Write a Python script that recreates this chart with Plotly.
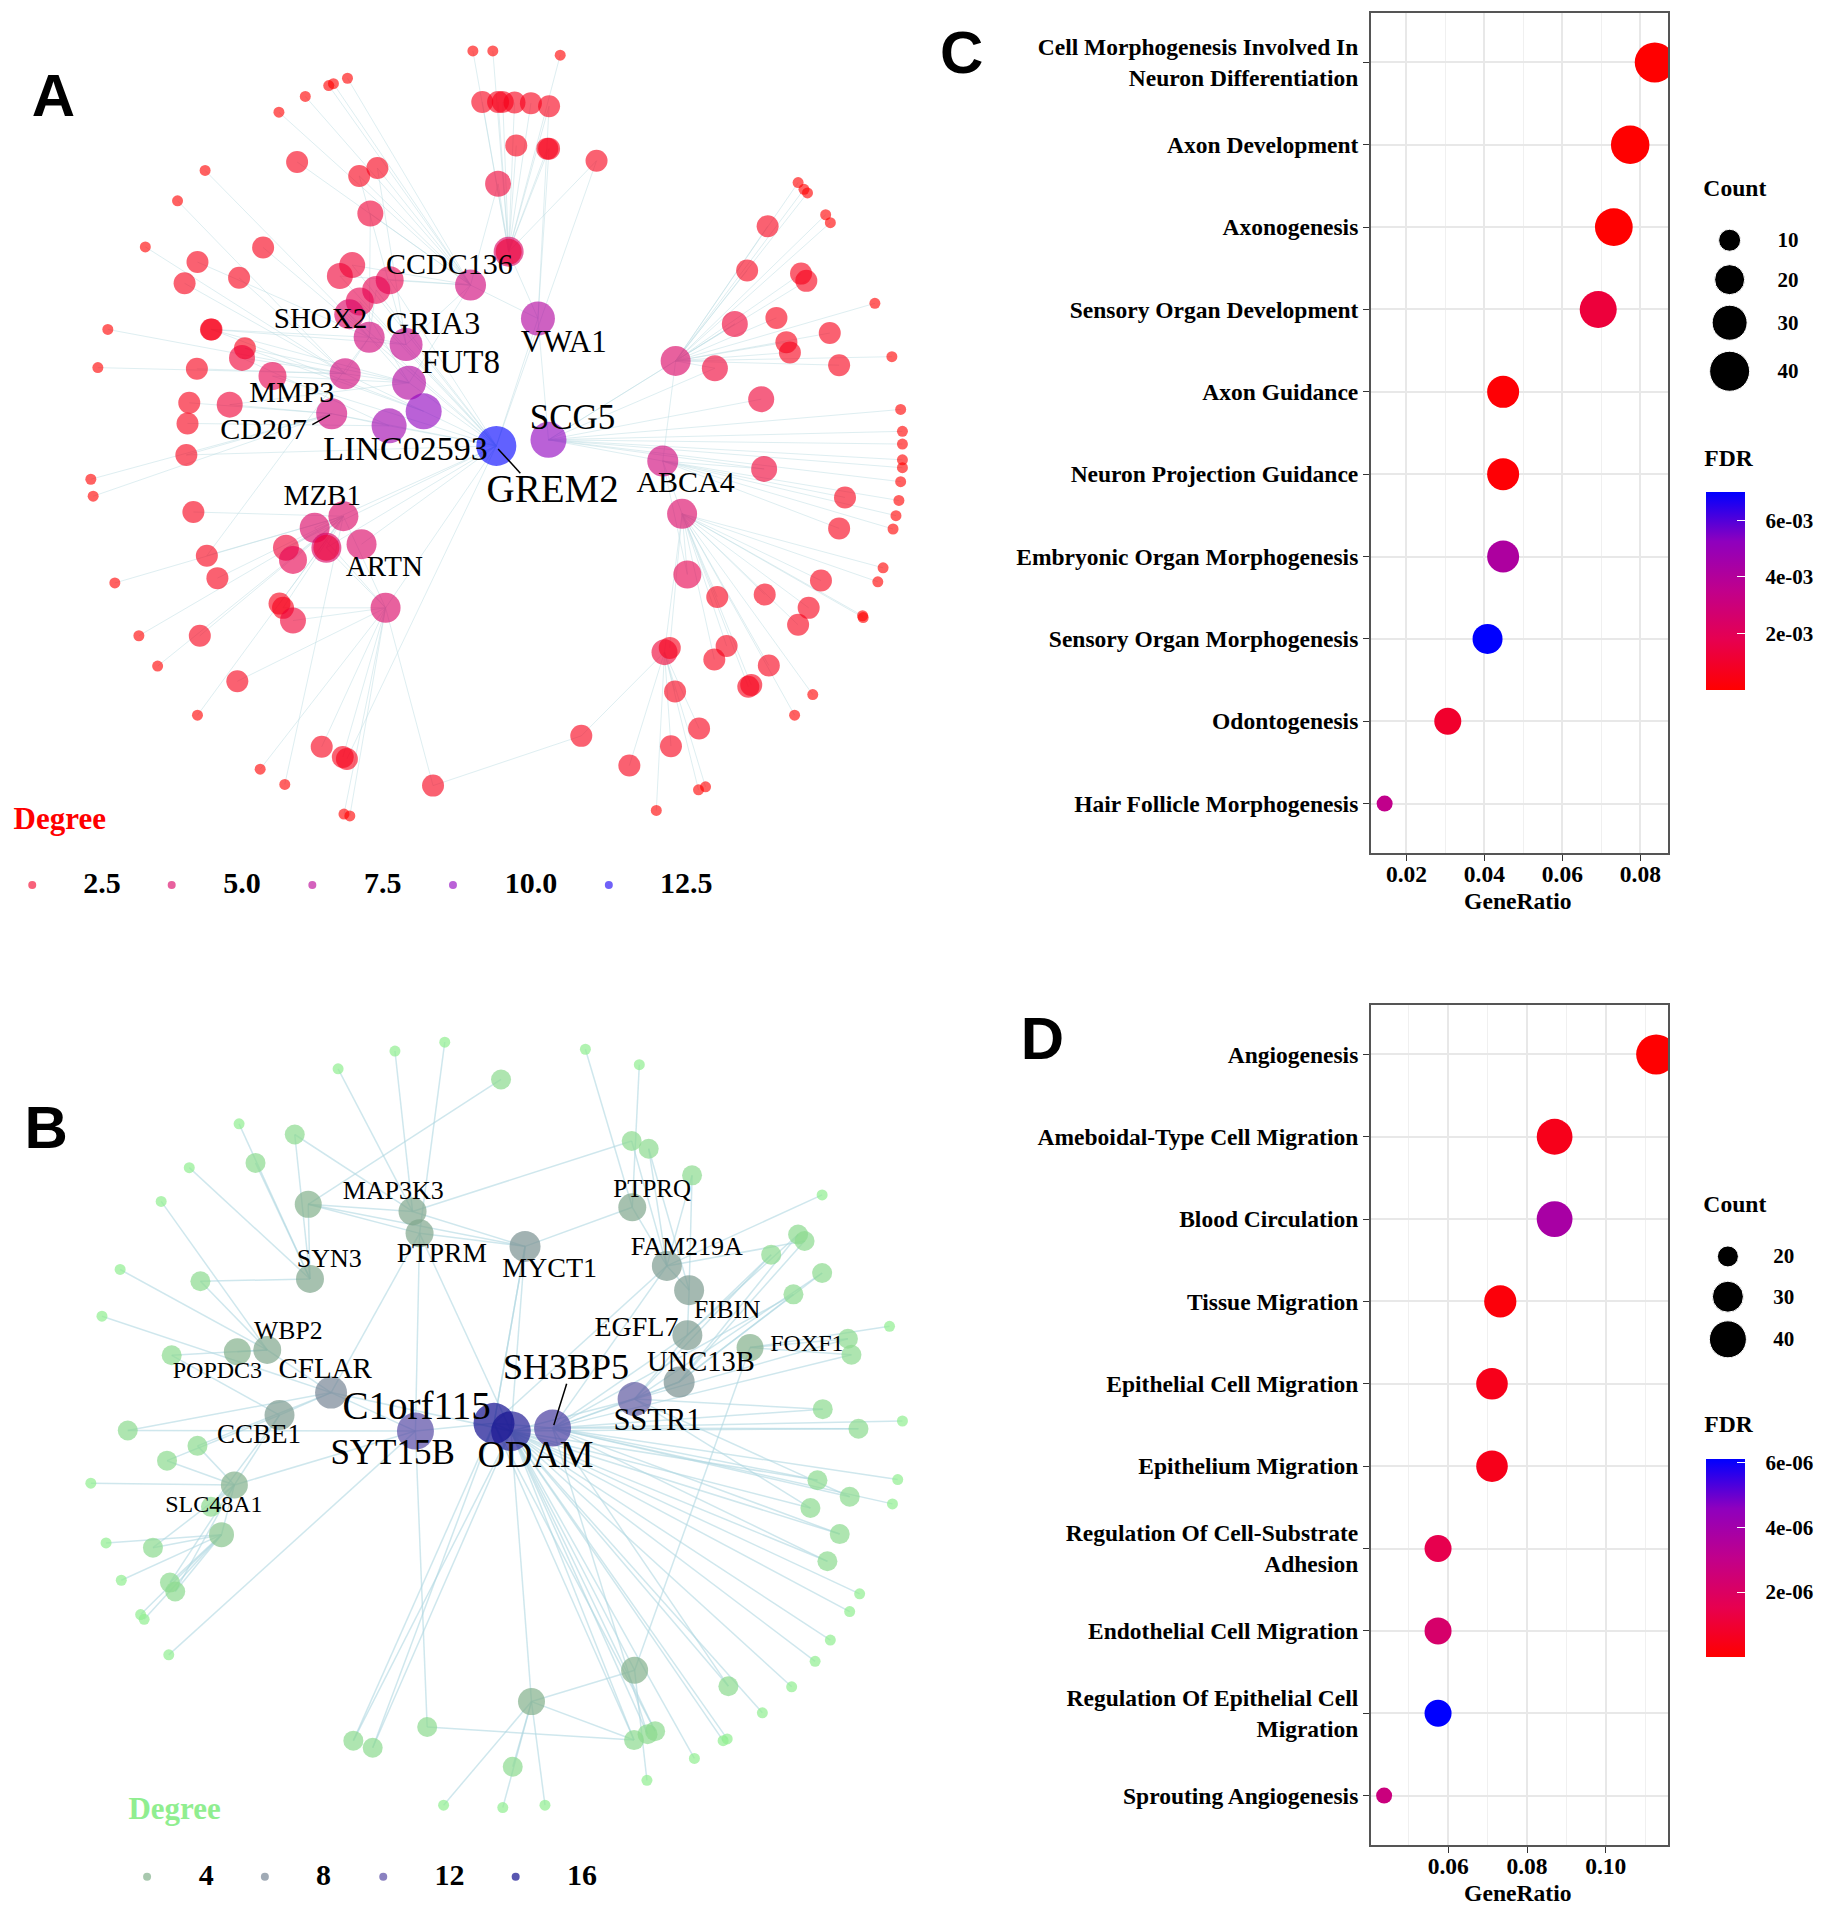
import numpy as np
import plotly.graph_objects as go

W, H = 1826, 1907
SERIF = "Liberation Serif"
SPAN_X = 1570
SPAN_Y = 1566
TEXT_DY = 3

# ---------- Panel A network ----------
a_keys = list("GSVCFRXLKMDTZABEHYW")
a_hx = [847, 936, 918, 803, 698, 693, 630, 664, 723, 589, 566, 658, 586, 1131, 1164, 1153, 868, 992, 1134]
a_hy = [735, 725, 525, 470, 631, 568, 556, 702, 678, 616, 682, 1002, 851, 760, 847, 595, 415, 1213, 1075]
a_hdeg = [13, 10, 8, 6, 8, 7, 6, 9, 10, 6, 6, 5, 5, 6, 5, 5, 5, 2, 3]
a_hlinks = ["VFRXLKD", "AEV", "C", "RF", "M", "X", "M", "D", "M", "", "", "ZG", "", "BE", "", "", "V", "W", "B"]

a_sx = [807, 841, 956, 593, 569, 561, 521, 476, 350, 303, 248, 184, 167, 155, 159, 196, 237, 269, 337, 444, 486, 587, 597, 1120, 1192, 1204, 1356, 1387, 1472, 1473, 1498, 1507, 1524, 1529, 1534, 1537, 1540, 1540, 1540, 1540, 1537, 1522, 1493, 1417, 1409, 1378, 1372, 1362]
a_sy = [84, 84, 91, 129, 138, 141, 159, 185, 281, 331, 407, 543, 606, 790, 818, 961, 1048, 1098, 1179, 1268, 1293, 1342, 1345, 1336, 1302, 1297, 1179, 1145, 1015, 1018, 959, 936, 872, 850, 825, 794, 771, 758, 732, 711, 675, 588, 500, 367, 354, 318, 312, 301]
a_slinks = list("HHHCCCCCXMMMMDDZZZZTZTTWWWBBBBBBAAASSSSSSEEEEEEE")

a_mx = [823, 850, 858, 878, 906, 937, 881, 934, 937, 1018, 507, 613, 644, 850, 632, 449, 337, 315, 408, 360, 361, 418, 413, 336, 323, 320, 318, 392, 330, 353, 371, 341, 405, 477, 483, 500, 549, 585, 592, 739, 1074, 1145, 1193, 1152, 1143, 1219, 1240, 1312, 1277, 1282, 1362, 1380, 1401, 1305, 1224, 1173, 1442, 1432, 1432, 1416, 1348, 1342, 1325, 1376, 1367, 1275, 1310, 1299, 1304, 1220, 1254, 601, 580, 665, 642, 614, 596, 465, 617, 537, 557, 557, 488, 500, 868]
a_my = [168, 168, 168, 169, 170, 175, 240, 245, 245, 265, 267, 290, 277, 303, 352, 408, 432, 467, 458, 543, 543, 574, 590, 608, 664, 698, 750, 667, 844, 916, 953, 1048, 1123, 995, 1002, 1023, 1231, 1248, 1251, 1295, 1262, 1230, 1201, 1140, 1068, 1087, 1065, 1097, 1132, 1129, 1030, 1002, 957, 980, 984, 947, 820, 871, 602, 549, 581, 564, 524, 463, 451, 446, 373, 658, 773, 607, 534, 437, 455, 462, 478, 497, 518, 620, 897, 870, 903, 903, 903, 923, 415]
a_mdeg = [2] * 13 + [3, 3] + [2] * 7 + [3] + [2] * 4 + [3] + [2] * 7 + [3] + [2] * 19 + [4] + [2] * 11 + [3, 3, 3, 3, 3, 3, 4, 4, 4, 5, 4, 5, 5, 5, 3, 3, 4, 3]
a_mlinks = ["H", "H", "H", "H", "H", "HV", "H", "H", "HV", "HG", "C", "CR", "CR", "HC", "XC", "X", "X", "M", "M", "FR", "KX", "FK", "LM", "M", "D", "L", "DG", "DF", "Z", "ZX", "Z", "Z", "T", "Z", "ZT", "T", "T", "T", "G", "TY", "W", "W", "W", "W", "B", "B", "B", "B", "B", "B", "B", "B", "B", "B", "B", "BA", "A", "A", "E", "E", "E", "E", "E", "E", "E", "E", "E", "S", "AS", "SE", "ES", "CG", "CG", "CG", "GX", "GF", "GF", "GF", "G", "GT", "GT", "Z", "ZG", "Z", "H"]

a_labels = ["CCDC136", "SHOX2", "GRIA3", "VWA1", "FUT8", "MMP3", "CD207", "LINC02593", "SCG5", "GREM2", "ABCA4", "MZB1", "ARTN"]
a_lx = [767, 547, 739, 962, 786, 498, 450, 692, 977, 943, 1170, 550, 656]
a_ly = [437, 525, 535, 564, 598, 648, 709, 742, 690, 808, 795, 818, 934]
a_lsize = [30, 29, 32, 31, 33, 30, 30, 34, 35, 39, 30, 29, 29]
a_leader_x = [[850, 888], [533, 563]]
a_leader_y = [[740, 780], [700, 684]]
a_legend_vals = [2.5, 5.0, 7.5, 10.0, 12.5]
a_legend_text = ["2.5", "5.0", "7.5", "10.0", "12.5"]
a_legend_mx = [55, 293, 533, 773, 1039]
a_legend_tx = [174, 413, 653, 906, 1171]

# ---------- Panel B network ----------
b_keys = list("OPHYRUCMKTQSFIEXWDBLNGZVJ")
b_hx = [872, 843, 943, 709, 1083, 1159, 565, 896, 704, 716, 1079, 529, 1138, 1176, 1173, 1280, 456, 405, 477, 400, 378, 526, 1083, 907, 1082]
b_hy = [762, 749, 757, 762, 708, 679, 697, 450, 391, 428, 384, 505, 483, 524, 600, 621, 625, 628, 735, 853, 937, 379, 1166, 1219, 1284]
b_hdeg = [15, 16, 13, 12, 11, 7, 8, 7, 5, 5, 5, 5, 6, 6, 6, 4, 5, 4, 6, 4, 3, 4, 4, 4, 2]
b_hlinks = ["PHRCTMZV", "HYMF", "RUEF", "CLT", "UE", "", "BW", "KTQPG", "G", "GC", "F", "G", "I", "E", "", "Z", "D", "", "L", "N", "", "", "", "ZJ", "OP"]

b_sx = [577, 674, 759, 999, 1091, 408, 323, 275, 205, 174, 155, 181, 207, 240, 246, 288, 757, 858, 930, 1104, 1185, 1234, 1241, 1301, 1351, 1391, 1417, 1450, 1467, 1523, 1532, 1540, 1518, 1403]
b_sy = [150, 120, 105, 117, 143, 243, 317, 374, 489, 568, 850, 951, 1014, 1072, 1080, 1140, 1394, 1398, 1394, 1352, 1315, 1285, 1282, 1238, 1194, 1151, 1115, 1067, 1037, 885, 844, 745, 585, 363]
b_slinks = list("KKTQQSSWWCLNNNNYVVVZOOOOOOOOOHHHXF")

b_mx = [855, 503, 436, 1078, 1107, 1181, 1316, 1362, 1373, 1403, 1354, 1447, 1453, 1404, 1465, 1395, 1450, 1383, 1433, 1412, 342, 293, 218, 285, 337, 360, 261, 290, 299, 603, 636, 729, 875, 1105, 1118, 1243]
b_my = [168, 261, 309, 272, 285, 330, 464, 430, 441, 495, 531, 606, 633, 725, 758, 845, 873, 892, 936, 982, 509, 634, 761, 812, 787, 890, 959, 1018, 1033, 1285, 1297, 1262, 1329, 1274, 1269, 1193]
b_mlinks = ["G", "SK", "S", "FK", "FI", "IF", "ER", "EU", "UF", "RU", "HU", "XR", "XH", "HR", "OH", "OH", "HR", "OR", "HO", "HO", "SW", "WB", "CY", "BL", "CL", "LB", "NL", "NL", "LN", "PO", "OP", "YJ", "V", "OH", "PO", "OH"]

b_labels = ["MAP3K3", "PTPRQ", "PTPRM", "MYCT1", "SYN3", "FAM219A", "FIBIN", "EGFL7", "FOXF1", "WBP2", "POPDC3", "CFLAR", "SH3BP5", "UNC13B", "C1orf115", "SSTR1", "CCBE1", "SYT15B", "ODAM", "SLC48A1"]
b_lx = [671, 1113, 754, 938, 562, 1172, 1241, 1086, 1377, 492, 371, 555, 966, 1196, 711, 1122, 442, 670, 914, 365]
b_ly = [356, 353, 462, 487, 471, 450, 557, 586, 613, 592, 659, 657, 655, 645, 722, 745, 768, 800, 804, 885]
b_lsize = [26, 25, 27.5, 28, 26, 26, 25.5, 28, 24, 25.7, 24, 29, 36, 28.5, 39, 30.5, 27, 35, 38, 24]
b_leader_x = [[967, 945]]
b_leader_y = [[682, 752]]
b_legend_vals = [4, 8, 12, 16]
b_legend_text = ["4", "8", "12", "16"]
b_legend_mx = [251, 452, 654, 880]
b_legend_tx = [352, 552, 767, 993]

# ---------- Panel C dot plot ----------
c_terms = ["Cell Morphogenesis Involved In<br>Neuron Differentiation", "Axon Development", "Axonogenesis",
           "Sensory Organ Development", "Axon Guidance", "Neuron Projection Guidance",
           "Embryonic Organ Morphogenesis", "Sensory Organ Morphogenesis", "Odontogenesis",
           "Hair Follicle Morphogenesis"]
c_ratio = [0.0837, 0.0774, 0.0732, 0.0692, 0.0448, 0.0448, 0.0448, 0.0408, 0.0306, 0.0144]
c_count = [41, 38, 36, 34, 22, 22, 22, 20, 15, 7]
c_fdr = [1e-5, 1e-5, 1e-5, 1.3e-3, 1e-4, 1e-4, 4.2e-3, 7.0e-3, 1.0e-3, 3.5e-3]
c_legend_counts = [10, 20, 30, 40]
c_legend_y = [396, 461, 532, 612]

# ---------- Panel D dot plot ----------
d_terms = ["Angiogenesis", "Ameboidal-Type Cell Migration", "Blood Circulation", "Tissue Migration",
           "Epithelial Cell Migration", "Epithelium Migration", "Regulation Of Cell-Substrate<br>Adhesion",
           "Endothelial Cell Migration", "Regulation Of Epithelial Cell<br>Migration", "Sprouting Angiogenesis"]
d_ratio = [0.1128, 0.0870, 0.0870, 0.0732, 0.0711, 0.0711, 0.0574, 0.0574, 0.0574, 0.0437]
d_count = [49, 38, 38, 32, 31, 31, 25, 25, 25, 17]
d_fdr = [1e-8, 5e-7, 3.8e-6, 2e-7, 5e-7, 5e-7, 1.5e-6, 2.2e-6, 6.1e-6, 2.7e-6]
d_legend_counts = [20, 30, 40]
d_legend_y = [467, 535, 607]

FDR_SCALE = [[0, "#ff0000"], [0.25, "#e7004f"], [0.5, "#c1008b"], [0.75, "#8f00be"], [1, "#0000ff"]]
GREEN_SCALE = [[0, "#90ee90"], [0.19, "rgb(131,176,139)"], [0.44, "rgb(119,134,149)"], [0.69, "rgb(88,74,165)"], [1, "rgb(0,0,139)"]]


def size_a(d):
    return np.interp(d, [1, 2, 3, 4, 5, 6, 7, 8, 10, 13], [11, 22, 26, 28, 30, 31, 33, 34, 36, 40])


def size_b(d):
    return np.interp(d, [1, 2, 3, 4, 5, 6, 7, 8, 11, 12, 13, 16], [11, 20, 25, 27, 28, 30, 31, 32, 34, 37, 37, 41])


def edge_path(keys, hx, hy, x, y, links):
    ex, ey = [], []
    for xi, yi, ln in zip(x, y, links):
        for k in ln:
            j = keys.index(k)
            ex += [xi, hx[j], None]
            ey += [yi, hy[j], None]
    return ex, ey


fig = go.Figure()


def text_trace(x, y, text, size, axis, color="black", bold=False, family=SERIF):
    fig.add_trace(go.Scatter(x=x, y=[v + TEXT_DY for v in y], text=text, mode="text", cliponaxis=False, hoverinfo="skip",
                             showlegend=False, textposition="middle center",
                             textfont=dict(family=family, size=size, color=color, weight=700 if bold else 400),
                             xaxis="x" + axis, yaxis="y" + axis))


# Network A
ax_all = a_hx + a_sx + a_mx
ay_all = a_hy + a_sy + a_my
ad_all = a_hdeg + [1] * len(a_sx) + a_mdeg
al_all = a_hlinks + a_slinks + a_mlinks
ex, ey = edge_path(a_keys, a_hx, a_hy, ax_all, ay_all, al_all)
fig.add_trace(go.Scatter(x=ex, y=ey, mode="lines", line=dict(color="rgba(190,222,228,0.5)", width=1),
                         hoverinfo="skip", showlegend=False, xaxis="x", yaxis="y"))
fig.add_trace(go.Scatter(x=ax_all, y=ay_all, mode="markers", showlegend=False,
                         marker=dict(size=size_a(np.array(ad_all)), color=ad_all, colorscale=FDR_SCALE, cmin=1, cmax=13,
                                     opacity=0.62, line=dict(width=0)), xaxis="x", yaxis="y"))
for lx, ly in zip(a_leader_x, a_leader_y):
    fig.add_trace(go.Scatter(x=lx, y=ly, mode="lines", line=dict(color="black", width=1.5), hoverinfo="skip",
                             showlegend=False, xaxis="x", yaxis="y"))
for tx, ty, tl, ts in zip(a_lx, a_ly, a_labels, a_lsize):
    text_trace([tx], [ty], [tl], ts, "")
fig.add_trace(go.Scatter(x=a_legend_mx, y=[1459] * 5, mode="markers", showlegend=False,
                         marker=dict(size=8, color=a_legend_vals, colorscale=FDR_SCALE, cmin=1, cmax=13, opacity=0.62),
                         xaxis="x", yaxis="y"))
text_trace(a_legend_tx, [1457] * 5, a_legend_text, 30, "", bold=True)
text_trace([102], [1350], ["Degree"], 31, "", color="#ff0000", bold=True)
text_trace([91], [163], ["A"], 60, "", bold=True, family="Liberation Sans")

# Network B
bx_all = b_hx + b_sx + b_mx
by_all = b_hy + b_sy + b_my
bd_all = b_hdeg + [1] * len(b_sx) + [2] * len(b_mx)
bl_all = b_hlinks + b_slinks + b_mlinks
ex, ey = edge_path(b_keys, b_hx, b_hy, bx_all, by_all, bl_all)
fig.add_trace(go.Scatter(x=ex, y=ey, mode="lines", line=dict(color="rgba(175,215,225,0.6)", width=1.5),
                         hoverinfo="skip", showlegend=False, xaxis="x2", yaxis="y2"))
fig.add_trace(go.Scatter(x=bx_all, y=by_all, mode="markers", showlegend=False,
                         marker=dict(size=size_b(np.array(bd_all)), color=bd_all, colorscale=GREEN_SCALE, cmin=1, cmax=17,
                                     opacity=0.7, line=dict(width=0)), xaxis="x2", yaxis="y2"))
for lx, ly in zip(b_leader_x, b_leader_y):
    fig.add_trace(go.Scatter(x=lx, y=ly, mode="lines", line=dict(color="black", width=1.5), hoverinfo="skip",
                             showlegend=False, xaxis="x2", yaxis="y2"))
for tx, ty, tl, ts in zip(b_lx, b_ly, b_labels, b_lsize):
    text_trace([tx], [ty], [tl], ts, "2")
fig.add_trace(go.Scatter(x=b_legend_mx, y=[1515] * 4, mode="markers", showlegend=False,
                         marker=dict(size=8, color=b_legend_vals, colorscale=GREEN_SCALE, cmin=1, cmax=17, opacity=0.7),
                         xaxis="x2", yaxis="y2"))
text_trace(b_legend_tx, [1513] * 4, b_legend_text, 30, "2", bold=True)
text_trace([298], [1402], ["Degree"], 31, "2", color="#90ee90", bold=True)
text_trace([79], [255], ["B"], 60, "2", bold=True, family="Liberation Sans")


def size_c(c):
    return np.interp(c, [7, 10, 15, 20, 22, 30, 34, 38, 41], [16, 22, 27, 30, 32, 35, 37, 38.5, 40])


def size_d(c):
    return np.interp(c, [17, 20, 25, 30, 40, 49], [16, 20, 27, 31, 37, 40])


def dotplot(terms, ratio, count, fdr, sizer, axis, cmax, ticks, tick_text, bar_top, legend_counts, legend_sizes, legend_y,
            legend_x, label_x, overlay, titles_y):
    fig.add_trace(go.Scatter(x=ratio, y=terms, mode="markers", showlegend=False, xaxis="x" + axis, yaxis="y" + axis,
                             marker=dict(size=sizer(np.array(count)), color=fdr, colorscale=FDR_SCALE, cmin=0, cmax=cmax,
                                         opacity=1, line=dict(width=0),
                                         colorbar=dict(x=1706 / W, xanchor="left", y=1 - bar_top / H, yanchor="top",
                                                       len=198, lenmode="pixels", thickness=39, thicknessmode="pixels",
                                                       xpad=0, ypad=0, outlinewidth=0, ticks="inside", ticklen=8,
                                                       tickcolor="white", tickvals=ticks,
                                                       ticktext=["\u00a0\u00a0\u00a0" + t for t in tick_text],
                                                       tickfont=dict(family=SERIF, size=21, color="black", weight=700)))))
    fig.add_trace(go.Scatter(x=[legend_x] * len(legend_counts), y=legend_y, mode="markers", showlegend=False,
                             xaxis="x" + overlay, yaxis="y" + overlay,
                             marker=dict(size=legend_sizes, color="black", opacity=1)))
    text_trace([label_x] * len(legend_counts), legend_y, [str(c) for c in legend_counts], 21, overlay, bold=True)
    text_trace([1412, 1401], titles_y, ["Count", "FDR"], 23.6, overlay, bold=True)


dotplot(c_terms, c_ratio, c_count, c_fdr, size_c, "5", 7.0e-3, [2e-3, 4e-3, 6e-3], ["2e-03", "4e-03", "6e-03"], 492,
        c_legend_counts, [22, 30, 35, 40], c_legend_y, 1403, 1504, "3", [310, 755])
dotplot(d_terms, d_ratio, d_count, d_fdr, size_d, "6", 6.1e-6, [2e-6, 4e-6, 6e-6], ["2e-06", "4e-06", "6e-06"], 1459,
        d_legend_counts, [21, 31, 37], d_legend_y, 1400, 1497, "4", [379, 750])
text_trace([72], [92], ["C"], 60, "3", bold=True, family="Liberation Sans")
text_trace([212], [105], ["D"], 60, "4", bold=True, family="Liberation Sans")
text_trace([1036], [1486], ["GeneRatio"], 23.6, "3", bold=True)
text_trace([1036], [1543], ["GeneRatio"], 23.6, "4", bold=True)


def pixel_axes(x0, x1, y0, y1):
    xa = dict(domain=[x0 / W, x1 / W], range=[0, SPAN_X], visible=False, fixedrange=True)
    ya = dict(domain=[1 - y1 / H, 1 - y0 / H], range=[SPAN_Y, 0], visible=False, fixedrange=True)
    return xa, ya


def plot_axes(x0, x1, y0, y1, xr, xticks, xt_text, terms, minor_dtick, minor_tick0, ax_id):
    tickf = dict(family=SERIF, size=23.5, color="black", weight=700)
    xa = dict(domain=[x0 / W, x1 / W], range=xr, tickvals=xticks, ticktext=xt_text, tickfont=tickf, ticks="outside",
              ticklen=6, tickcolor="#333333", showgrid=True, gridcolor="#e8e8e8", gridwidth=1.5, zeroline=False,
              showline=True, linecolor="#555555", linewidth=2, mirror=True, fixedrange=True, anchor="y" + ax_id,
              ticklabelstandoff=-7,
              minor=dict(showgrid=True, gridcolor="#f0f0f0", gridwidth=1, dtick=minor_dtick, tick0=minor_tick0))
    ya = dict(domain=[1 - y1 / H, 1 - y0 / H], range=[9.6, -0.6], type="category", categoryorder="array",
              categoryarray=terms, tickfont=tickf, ticks="outside", ticklen=6, tickcolor="#333333", showgrid=True,
              gridcolor="#e8e8e8", gridwidth=1.5, zeroline=False, showline=True, linecolor="#555555", linewidth=2,
              mirror=True, fixedrange=True, anchor="x" + ax_id)
    return xa, ya


xa1, ya1 = pixel_axes(0, 920, 0, 950)
xa2, ya2 = pixel_axes(0, 920, 980, 1907)
xa3, ya3 = pixel_axes(920, 1826, 0, 950)
xa4, ya4 = pixel_axes(920, 1826, 980, 1907)
for a, s in ((xa2, "y2"), (ya2, "x2"), (xa3, "y3"), (ya3, "x3"), (xa4, "y4"), (ya4, "x4")):
    a["anchor"] = s
xa5, ya5 = plot_axes(1371, 1668, 13, 853, [0.0109, 0.0871], [0.02, 0.04, 0.06, 0.08], ["0.02", "0.04", "0.06", "0.08"],
                     c_terms, 0.01, 0.01, "5")
xa6, ya6 = plot_axes(1371, 1668, 1005, 1845, [0.04037, 0.1158], [0.06, 0.08, 0.10], ["0.06", "0.08", "0.10"],
                     d_terms, 0.01, 0.05, "6")

fig.update_layout(width=W, height=H, margin=dict(l=0, r=0, t=0, b=0, autoexpand=False), paper_bgcolor="white",
                  plot_bgcolor="rgba(0,0,0,0)", showlegend=False, hovermode=False,
                  xaxis=xa1, yaxis=ya1, xaxis2=xa2, yaxis2=ya2, xaxis3=xa3, yaxis3=ya3, xaxis4=xa4, yaxis4=ya4,
                  xaxis5=xa5, yaxis5=ya5, xaxis6=xa6, yaxis6=ya6)

fig.write_html("out.html", post_script="document.body.style.margin='0';document.body.style.overflow='hidden';",
               config=dict(displayModeBar=False))
